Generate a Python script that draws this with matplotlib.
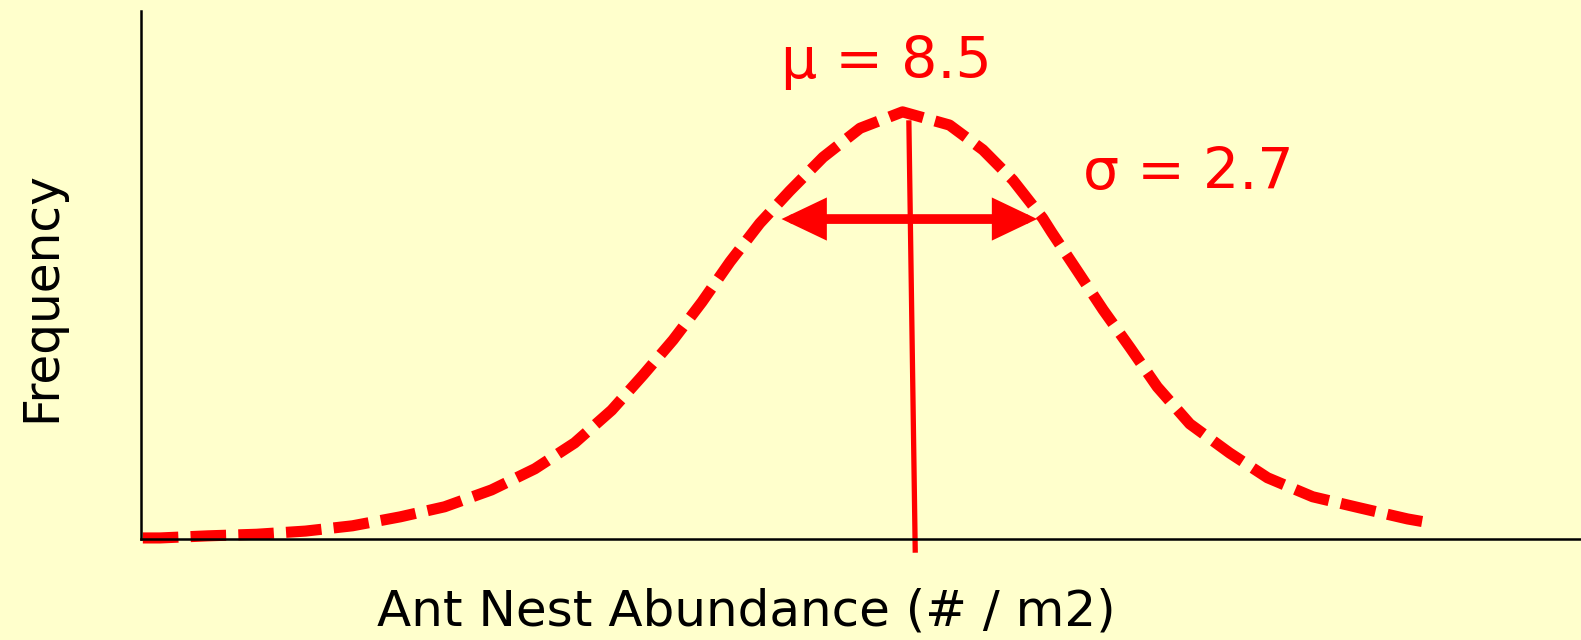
import numpy as np
import matplotlib.pyplot as plt

# curve (nests per m2, relative frequency)
abundance = [0.02, 0.21, 0.74, 1.28, 1.82, 2.34, 2.87, 3.36, 3.88, 4.36,
             4.80, 5.21, 5.56, 5.89, 6.21, 6.52, 6.85, 7.18, 7.55, 7.96,
             8.43, 8.95, 9.32, 9.65, 9.98, 10.08, 10.36, 10.65, 10.95, 11.25,
             11.61, 12.05, 12.47, 12.97, 13.49, 14.02, 14.22]
frequency = [0.002, 0.002, 0.006, 0.009, 0.015, 0.025, 0.042, 0.061, 0.093, 0.133,
             0.182, 0.244, 0.311, 0.377, 0.449, 0.525, 0.598, 0.659, 0.723, 0.778,
             0.809, 0.784, 0.737, 0.680, 0.608, 0.581, 0.509, 0.434, 0.362, 0.288,
             0.218, 0.163, 0.116, 0.080, 0.059, 0.038, 0.032]

mean_line_x = [8.50, 8.57]
mean_line_y = [0.788, -0.021]
sd_arrow_x = [7.09, 9.92]
sd_arrow_y = 0.606

mu_label = "\u03bc = 8.5"
sigma_label = "\u03c3 = 2.7"

bg = '#FFFFCC'
red = '#FF0000'

fig = plt.figure(figsize=(15.81, 6.4), dpi=100, facecolor=bg)
ax = fig.add_axes([0.0892, 0.1578, 0.9108, 0.825])
ax.set_facecolor(bg)

ax.plot(abundance, frequency, color=red, lw=8, dashes=(3.2, 1.1),
        dash_capstyle='butt', clip_on=False, solid_joinstyle='round')

# mean line
ax.plot(mean_line_x, mean_line_y, color=red, lw=3.8, clip_on=False)

# spread arrow
ax.annotate('', xy=(sd_arrow_x[0], sd_arrow_y), xytext=(sd_arrow_x[1], sd_arrow_y),
            arrowprops=dict(arrowstyle='<|-|>,head_length=2.1,head_width=1.0',
                            color=red, lw=7, shrinkA=0, shrinkB=0,
                            joinstyle='miter'))

ax.text(8.25, 0.903, mu_label, color=red, fontsize=41, ha='center', va='center')
ax.text(11.59, 0.693, sigma_label, color=red, fontsize=41, ha='center', va='center')

ax.set_xlim(0, 15.94)
ax.set_ylim(0, 1)
for s in ['top', 'right']:
    ax.spines[s].set_visible(False)
for s in ['left', 'bottom']:
    ax.spines[s].set_linewidth(1.8)
ax.set_xticks([])
ax.set_yticks([])

fig.text(0.472, 0.045, "Ant Nest Abundance (# / m2)", fontsize=36,
         ha='center', va='center')
fig.text(0.026, 1 - 297 / 640, "Frequency", fontsize=35, rotation=90,
         ha='center', va='center')

fig.savefig('out.png', dpi=100, facecolor=bg)
